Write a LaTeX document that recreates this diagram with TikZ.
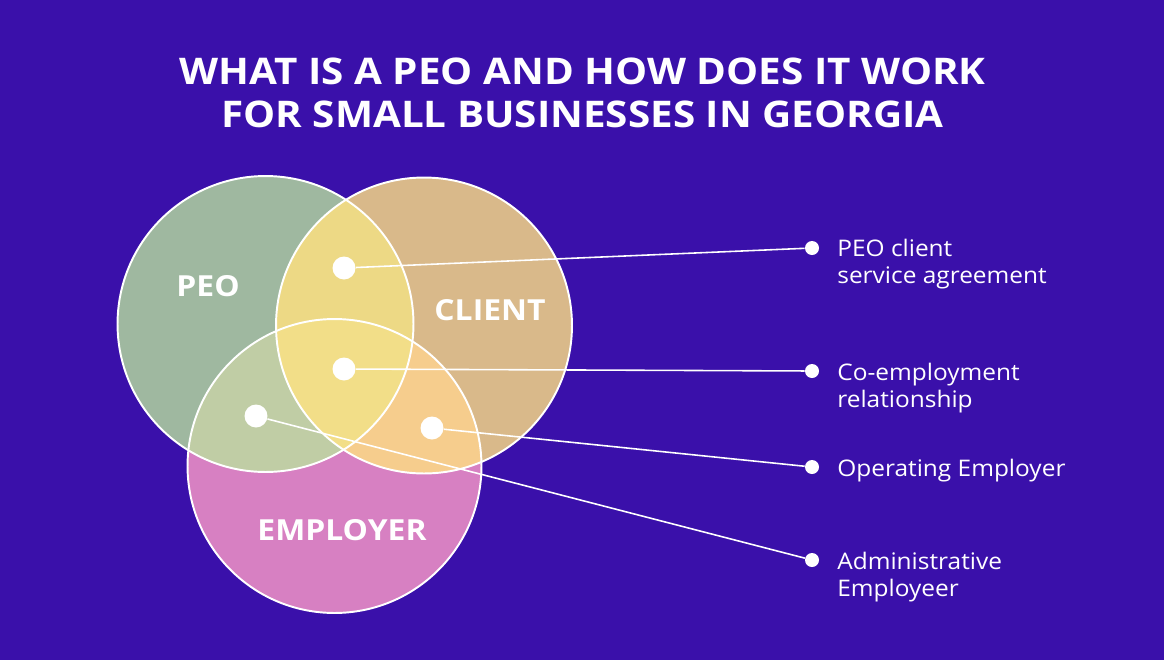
\documentclass[tikz,border=0pt]{standalone}
\usepackage{fontspec}
\setmainfont{Open Sans}[FakeStretch = 1.07, BoldFeatures = {FakeStretch = 1.1}]
\usetikzlibrary{positioning}

\definecolor{bgpurple}{HTML}{3A10AA}
\definecolor{peogreen}{HTML}{9FB8A0}
\definecolor{clienttan}{HTML}{D9B98A}
\definecolor{employerpink}{HTML}{D780C2}
\definecolor{peoclient}{HTML}{EDD985}
\definecolor{peoemployer}{HTML}{C0CDA5}
\definecolor{clientemployer}{HTML}{F6CD8D}
\definecolor{allthree}{HTML}{F2DE88}

\begin{document}
\begin{tikzpicture}[x = 0.02cm, y = -0.02cm,
	dot/.style = {circle, fill = white, inner sep = 0pt, minimum size = 0.46cm},
	enddot/.style = {circle, fill = white, inner sep = 0pt, minimum size = 0.28cm},
	link/.style = {white, line width = 0.9pt},
	outline/.style = {white, line width = 1.1pt},
	headline/.style = {white, anchor = base, inner sep = 0pt, font = \bfseries\fontsize{20.9}{24}\selectfont},
	setname/.style = {white, inner sep = 0pt, font = \bfseries\fontsize{16.5}{20}\selectfont},
	caption/.style = {white, anchor = base west, align = left, inner sep = 0pt, font = \fontsize{13}{15.3}\selectfont}]

	% Background

	\fill [bgpurple] (0, 0) rectangle (1164, 660);
	\useasboundingbox (0, 0) rectangle (1164, 660);

	% Title

	\node [headline] (title1) at (582.5, 84) {WHAT IS A PEO AND HOW DOES IT WORK};
	\node [headline] (title2) at (582.5, 127) {FOR SMALL BUSINESSES IN GEORGIA};

	% Circles

	\coordinate (peo) at (265.5, 324);
	\coordinate (client) at (424, 325.5);
	\coordinate (employer) at (334.5, 466);

	\fill [peogreen] (peo) circle [radius = 2.96cm];
	\fill [clienttan] (client) circle [radius = 2.96cm];
	\fill [employerpink] (employer) circle [radius = 2.94cm];

	% Overlaps

	\begin{scope}
		\clip (peo) circle [radius = 2.96cm];
		\fill [peoclient] (client) circle [radius = 2.96cm];
		\fill [peoemployer] (employer) circle [radius = 2.94cm];
	\end{scope}
	\begin{scope}
		\clip (client) circle [radius = 2.96cm];
		\fill [clientemployer] (employer) circle [radius = 2.94cm];
		\clip (peo) circle [radius = 2.96cm];
		\fill [allthree] (employer) circle [radius = 2.94cm];
	\end{scope}

	\foreach \c/\r in {peo/2.96cm, client/2.96cm, employer/2.94cm}
		\draw [outline] (\c) circle [radius = \r];

	% Set names

	\node [setname] (peoname) at (208, 286) {PEO};
	\node [setname] (clientname) at (490, 310) {CLIENT};
	\node [setname] (employername) at (342, 530) {EMPLOYER};

	% Dots and links

	\node [dot] (agreement) at (344, 268) {};
	\node [dot] (coemployment) at (344, 369) {};
	\node [dot] (administrative) at (256, 416) {};
	\node [dot] (operating) at (432, 428) {};

	\node [enddot] (agreementend) at (812, 248) {};
	\node [enddot] (coemploymentend) at (812, 371) {};
	\node [enddot] (operatingend) at (812, 467) {};
	\node [enddot] (administrativeend) at (812, 560) {};

	\draw [link] (agreement) -- (agreementend);
	\draw [link] (coemployment) -- (coemploymentend);
	\draw [link] (operating) -- (operatingend);
	\draw [link] (administrative) -- (administrativeend);

	% Captions

	\node [caption] (agreementtext) at (837, 283) {PEO client\\service agreement};
	\node [caption] (coemploymenttext) at (837, 407) {Co-employment\\relationship};
	\node [caption] (operatingtext) at (837, 476) {Operating Employer};
	\node [caption] (administrativetext) at (837, 596) {Administrative\\Employeer};

\end{tikzpicture}
\end{document}
